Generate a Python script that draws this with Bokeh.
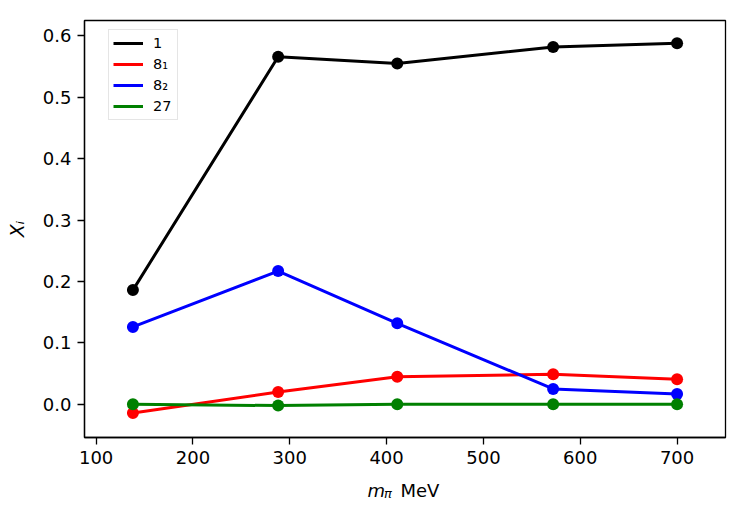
from bokeh.plotting import figure
from bokeh.layouts import column
from bokeh.models import Range1d, FixedTicker, PrintfTickFormatter, Legend, LegendItem
from bokeh.core.properties import value
from bokeh.embed import file_html
from bokeh.resources import INLINE

# ---- data ----
m_pi = [138, 288, 411, 572, 700]
x_1 = [0.186, 0.566, 0.555, 0.582, 0.588]
x_8_1 = [-0.014, 0.020, 0.045, 0.049, 0.041]
x_8_2 = [0.126, 0.217, 0.132, 0.025, 0.017]
x_27 = [0.000, -0.002, 0.000, 0.000, 0.000]
series_labels = ["1", "8\u2081", "8\u2082", "27"]
series_colors = ["#000000", "#ff0000", "#0000ff", "#008000"]
x_ticks = [100, 200, 300, 400, 500, 600, 700]
y_ticks = [0.0, 0.1, 0.2, 0.3, 0.4, 0.5, 0.6]

# ---- layout ----
X_START, X_END = 88, 750
Y_START, Y_END = -0.054, 0.625
W, H1, H2 = 731, 473, 30
BL, BR, BT, BB = 84, 6, 20, 36
FRAME_W = W - BL - BR
FRAME_H = H1 - BT - BB
FONT = "DejaVu Sans"

p = figure(width=W, height=H1, x_range=Range1d(X_START, X_END), y_range=Range1d(Y_START, Y_END),
           output_backend="svg", toolbar_location=None,
           min_border_left=BL, min_border_right=BR, min_border_top=BT, min_border_bottom=BB)
p.xgrid.visible = False
p.ygrid.visible = False
p.outline_line_color = "black"
p.outline_line_width = 1.3
p.outline_line_alpha = 1.0

for ax in (p.xaxis[0], p.yaxis[0]):
    ax.axis_line_width = 1.3
    ax.axis_line_color = "black"
    ax.major_tick_line_width = 1.3
    ax.major_tick_line_color = "black"
    ax.major_tick_out = 7
    ax.major_tick_in = 0
    ax.minor_tick_out = 0
    ax.minor_tick_in = 0
    ax.major_label_text_font = FONT
    ax.major_label_text_font_size = "18px"
    ax.major_label_text_color = "black"
    ax.major_label_standoff = 6

p.xaxis.ticker = FixedTicker(ticks=x_ticks)
p.yaxis.ticker = FixedTicker(ticks=y_ticks)
p.yaxis.formatter = PrintfTickFormatter(format="%.1f")
p.xaxis.formatter = PrintfTickFormatter(format="%d")

p.yaxis.axis_label = "X\u1d62"
p.yaxis.axis_label_text_font = FONT
p.yaxis.axis_label_text_font_style = "italic"
p.yaxis.axis_label_text_font_size = "19px"
p.yaxis.axis_label_text_color = "black"
p.yaxis.axis_label_standoff = 12

items = []
for ys, lab_text, col in zip([x_1, x_8_1, x_8_2, x_27], series_labels, series_colors):
    r = p.line(m_pi, ys, line_color=col, line_width=3)
    p.scatter(m_pi, ys, size=12, fill_color=col, line_color=col, line_width=0)
    items.append(LegendItem(label=lab_text, renderers=[r]))

legend = Legend(items=items, location=(24, FRAME_H - 13 - 87), margin=0,
                label_text_font=FONT, label_text_font_size="14.5px", label_text_color="black",
                glyph_width=30, glyph_height=18, label_height=18, label_standoff=10,
                padding=4, spacing=3, border_line_color="#cccccc", border_line_width=1,
                background_fill_alpha=0.8)
p.add_layout(legend)

# ---- x axis label strip: m_pi MeV (italic m, subscript pi) ----
# the strip's frame lines up with the main frame; coordinates are pixels from the frame's left edge
lab = figure(width=W, height=H2, x_range=Range1d(0, FRAME_W), y_range=Range1d(0, H2),
             output_backend="svg", toolbar_location=None, x_axis_type=None, y_axis_type=None,
             min_border_left=BL, min_border_right=BR, min_border_top=0, min_border_bottom=0)
lab.outline_line_color = None
lab.text(x=[283], y=[13], text=["m"], text_font=value(FONT), text_font_style="italic",
         text_font_size="18px", text_color="black", text_baseline="alphabetic")
lab.text(x=[299.5], y=[10.5], text=["\u03c0"], text_font=value(FONT), text_font_style="italic",
         text_font_size="13px", text_color="black", text_baseline="alphabetic")
lab.text(x=[316], y=[13], text=["MeV"], text_font=value(FONT),
         text_font_size="18px", text_color="black", text_baseline="alphabetic")

open("out.html", "w").write(file_html(column(p, lab, spacing=0), INLINE))
